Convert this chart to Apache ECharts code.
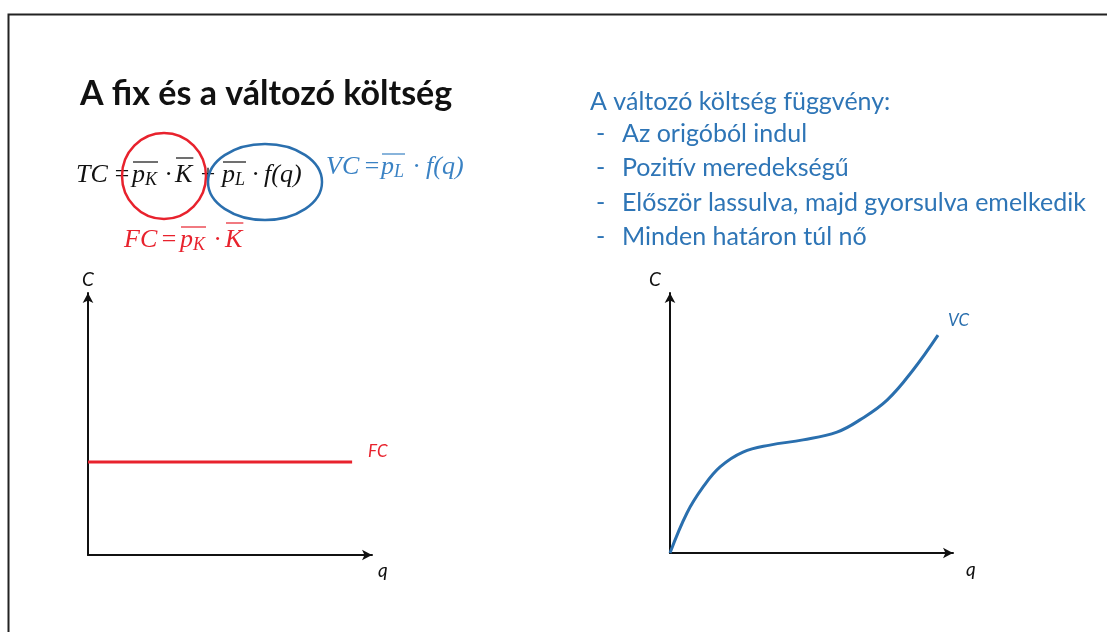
<!DOCTYPE html>
<html>
<head>
<meta charset="utf-8">
<script src="https://cdn.jsdelivr.net/npm/echarts@6/dist/echarts.min.js"></script>
<style>
html,body{margin:0;padding:0;background:#fff;}
#chart{width:1107px;height:632px;}
</style>
</head>
<body>
<div id="chart"></div>
<script>
// ---- data ----
var fcQ = [0, 93];
var fcC = [35.5, 35.5];
var vcQ = [0, 6.0, 11.7, 17.7, 25.8, 35.3, 47.0, 59.0, 67.1, 76.7, 85.9, 94.7];
var vcC = [0, 15.4, 25.4, 33.1, 38.8, 41.5, 43.5, 46.5, 51.2, 58.8, 70.4, 83.8];
var titleText = 'A fix és a változó költség';
var listHeader = 'A változó költség függvény:';
var listItems = ['Az origóból indul', 'Pozitív meredekségű', 'Először lassulva, majd gyorsulva emelkedik', 'Minden határon túl nő'];

var RED = '#e8222d', BLUE = '#2a6fae', TBLUE = '#2e75b6', SERIF = '"Liberation Serif", "DejaVu Serif", serif';

var chart = echarts.init(document.getElementById('chart'));
var ctx = document.createElement('canvas').getContext('2d');
function mw(t, f) { ctx.font = f; return ctx.measureText(t).width; }

// formula pieces: {t, x, sub, over}; baseline y
function formula(base, size, color, segs) {
  var out = [];
  var f = 'italic ' + size + 'px ' + SERIF;
  var ss = Math.round(size * 0.68);
  var fs = 'italic ' + ss + 'px ' + SERIF;
  var cy = base - 0.32 * size;
  segs.forEach(function (s) {
    var x = s.x;
    out.push({ type: 'text', z: 10, style: { text: s.t, x: x, y: cy, font: f, fill: color, verticalAlign: 'middle' } });
    var end = x + mw(s.t, f);
    if (s.sub) {
      out.push({ type: 'text', z: 10, style: { text: s.sub, x: end, y: base + 3 - 0.32 * ss, font: fs, fill: color, verticalAlign: 'middle' } });
      end += mw(s.sub, fs);
    }
    if (s.over) {
      var oy = base - (s.over === 'cap' ? 25 : 21);
      out.push({ type: 'line', z: 10, shape: { x1: x + 1, y1: oy, x2: end + 1, y2: oy }, style: { stroke: color, lineWidth: 1.2 } });
    }
  });
  return out;
}

var graphics = [];
// frame
graphics.push({ type: 'polyline', z: 0, shape: { points: [[8.5, 632], [8.5, 14.5], [1107, 14.5]] }, style: { stroke: '#222', lineWidth: 2, fill: null } });
// title
graphics.push({ type: 'text', style: { text: titleText, x: 80, y: 94, font: 'bold 34px Lato, "Open Sans", sans-serif', fill: '#111', verticalAlign: 'middle' } });
// list
var LF = '25px Lato, sans-serif';
graphics.push({ type: 'text', style: { text: listHeader, x: 590, y: 102, font: LF, fill: TBLUE, verticalAlign: 'middle' } });
listItems.forEach(function (it, i) {
  var y = 134 + i * 34.3;
  graphics.push({ type: 'text', style: { text: '-', x: 596, y: y, font: LF, fill: TBLUE, verticalAlign: 'middle' } });
  graphics.push({ type: 'text', style: { text: it, x: 622, y: y, font: LF, fill: TBLUE, verticalAlign: 'middle' } });
});
// formulas
graphics = graphics.concat(formula(183, 26, '#111', [
  { t: 'TC', x: 76 }, { t: '=', x: 113 }, { t: 'p', x: 132, sub: 'K', over: 'x' }, { t: '·', x: 165 },
  { t: 'K', x: 175, over: 'cap' }, { t: '+', x: 199 }, { t: 'p', x: 222, sub: 'L', over: 'x' },
  { t: '·', x: 252 }, { t: 'f(q)', x: 264 }
]));
graphics = graphics.concat(formula(175, 26, '#3a82c4', [
  { t: 'VC', x: 326 }, { t: '=', x: 363 }, { t: 'p', x: 381, sub: 'L', over: 'x' }, { t: '·', x: 413 }, { t: 'f(q)', x: 426 }
]));
graphics = graphics.concat(formula(248, 26, RED, [
  { t: 'FC', x: 124 }, { t: '=', x: 160 }, { t: 'p', x: 180, sub: 'K', over: 'x' }, { t: '·', x: 214 }, { t: 'K', x: 225, over: 'cap' }
]));
// circles
graphics.push({ type: 'ellipse', z: 11, shape: { cx: 164, cy: 176, rx: 42, ry: 43 }, style: { stroke: RED, lineWidth: 2.5, fill: null } });
graphics.push({ type: 'ellipse', z: 11, shape: { cx: 265, cy: 182, rx: 57, ry: 38 }, style: { stroke: BLUE, lineWidth: 2.5, fill: null } });

function axisCommon(name, isX, pad) {
  return {
    type: 'value', min: 0, max: 100, name: name,
    nameLocation: 'end', nameGap: isX ? 6 : 4,
    nameTextStyle: { fontFamily: 'Lato, sans-serif', fontStyle: 'italic', fontSize: 19, color: '#111', padding: pad, verticalAlign: isX ? 'top' : 'bottom', align: isX ? 'left' : 'center' },
    axisLine: { show: true, onZero: false, symbol: ['none', 'arrow'], symbolSize: [8, 10], lineStyle: { color: '#111', width: 2 } },
    axisTick: { show: false }, axisLabel: { show: false }, splitLine: { show: false }
  };
}

chart.setOption({
  animation: false,
  backgroundColor: '#fff',
  grid: [
    { left: 88, top: 293, width: 284, height: 262 },
    { left: 670, top: 293, width: 283, height: 260 }
  ],
  xAxis: [
    Object.assign(axisCommon('q', true, [6, 0, 0, 0]), { gridIndex: 0 }),
    Object.assign(axisCommon('q', true, [7, 0, 0, 7]), { gridIndex: 1 })
  ],
  yAxis: [
    Object.assign(axisCommon('C', false, [0, 0, 0, 0]), { gridIndex: 0 }),
    Object.assign(axisCommon('C', false, [0, 30, 0, 0]), { gridIndex: 1 })
  ],
  series: [
    {
      type: 'line', xAxisIndex: 0, yAxisIndex: 0, data: fcQ.map(function (q, i) { return [q, fcC[i]]; }),
      showSymbol: false, lineStyle: { color: RED, width: 3 },
      endLabel: { show: true, formatter: 'FC', offset: [8, -10], color: RED, fontStyle: 'italic', fontSize: 17, fontFamily: 'Lato, sans-serif' }
    },
    {
      type: 'line', xAxisIndex: 1, yAxisIndex: 1, data: vcQ.map(function (q, i) { return [q, vcC[i]]; }),
      smooth: 0.4, showSymbol: false, lineStyle: { color: BLUE, width: 3 },
      endLabel: { show: true, formatter: 'VC', offset: [2, -15], color: BLUE, fontStyle: 'italic', fontSize: 17, fontFamily: 'Lato, sans-serif' }
    }
  ],
  graphic: graphics
});
</script>
</body>
</html>
